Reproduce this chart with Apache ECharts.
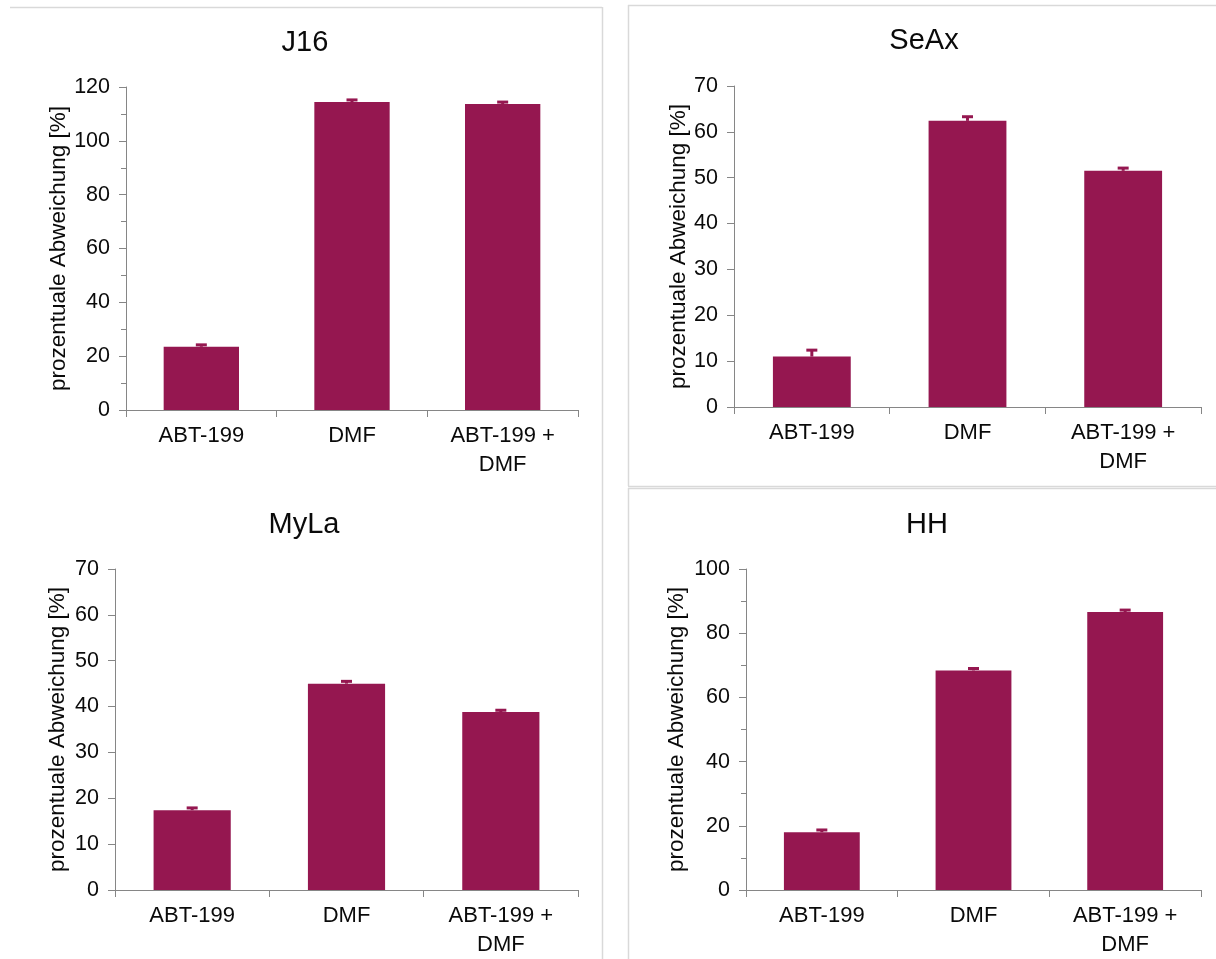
<!DOCTYPE html>
<html>
<head>
<meta charset="utf-8">
<script src="https://cdn.jsdelivr.net/npm/echarts@6/dist/echarts.min.js"></script>
<style>
  html, body { margin: 0; padding: 0; background: #ffffff; }
  #chart { width: 1216px; height: 959px; }
</style>
</head>
<body>
<div id="chart"></div>
<script>
// Treatment groups shown on every panel
const categories = ['ABT-199', 'DMF', 'ABT-199 +\nDMF'];

// Mean deviation [%] and error per cell line
const j16Values = [23.5, 114.4, 113.7];
const j16Errors = [0.7, 0.8, 0.7];

const seaxValues = [11.0, 62.4, 51.5];
const seaxErrors = [1.4, 0.9, 0.6];

const mylaValues = [17.4, 45.0, 38.8];
const mylaErrors = [0.5, 0.5, 0.4];

const hhValues = [18.0, 68.4, 86.6];
const hhErrors = [0.7, 0.6, 0.6];

const yAxisTitle = 'prozentuale Abweichung [%]';
const barColor = '#951750';
const axisColor = '#868686';
const textColor = '#0a0a0a';
const font = 'Liberation Sans, Arial, sans-serif';

// Panel layout: each cell line gets its own grid
const panels = [
  { title: 'J16',  values: j16Values,  errors: j16Errors,  max: 120, interval: 20, minor: true,
    grid: { left: 126, right: 638, top: 87, bottom: 549 }, titleX: 305, titleY: 43, nameGap: 56 },
  { title: 'SeAx', values: seaxValues, errors: seaxErrors, max: 70,  interval: 10, minor: false,
    grid: { left: 734, right: 15, top: 86, bottom: 552 },  titleX: 924, titleY: 41, nameGap: 40 },
  { title: 'MyLa', values: mylaValues, errors: mylaErrors, max: 70,  interval: 10, minor: false,
    grid: { left: 115, right: 638, top: 569, bottom: 67 }, titleX: 304, titleY: 525, nameGap: 46 },
  { title: 'HH',   values: hhValues,   errors: hhErrors,   max: 100, interval: 20, minor: true,
    grid: { left: 746, right: 15, top: 569, bottom: 67 },  titleX: 927, titleY: 525, nameGap: 58 }
];

const grids = [], xAxes = [], yAxes = [], series = [], graphics = [];

panels.forEach((p, i) => {
  grids.push(Object.assign({ containLabel: false }, p.grid));

  xAxes.push({
    type: 'category', gridIndex: i, data: categories,
    axisLine: { lineStyle: { color: axisColor, width: 1 } },
    axisTick: { show: true, length: 7, lineStyle: { color: axisColor } },
    axisLabel: { interval: 0, color: textColor, fontFamily: font, fontSize: 22, lineHeight: 29, margin: 11 },
    splitLine: { show: false }
  });

  yAxes.push({
    type: 'value', gridIndex: i, min: 0, max: p.max, interval: p.interval,
    name: yAxisTitle, nameLocation: 'middle', nameRotate: 90, nameGap: p.nameGap,
    nameTextStyle: { color: textColor, fontFamily: font, fontSize: 22.5 },
    axisLine: { show: true, lineStyle: { color: axisColor, width: 1 } },
    axisTick: { show: true, length: 7, lineStyle: { color: axisColor } },
    minorTick: { show: p.minor, splitNumber: 2, length: 5, lineStyle: { color: axisColor } },
    axisLabel: { color: textColor, fontFamily: font, fontSize: 21.5, margin: 16 },
    splitLine: { show: false }, minorSplitLine: { show: false }
  });

  series.push({
    type: 'bar', xAxisIndex: i, yAxisIndex: i, data: p.values,
    barCategoryGap: '50%', itemStyle: { color: barColor }, silent: true
  });

  // Error bars: stem from the bar top to mean + error, with a short cap
  series.push({
    type: 'custom', xAxisIndex: i, yAxisIndex: i, silent: true, z: 3,
    data: p.values.map((v, k) => [k, v, v + p.errors[k]]),
    encode: { x: 0, y: [1, 2] },
    renderItem: function (params, api) {
      const c = api.value(0);
      const low = api.coord([c, api.value(1)]);
      const high = api.coord([c, api.value(2)]);
      const half = 5.5;
      return {
        type: 'group',
        children: [
          { type: 'line', shape: { x1: low[0], y1: low[1], x2: high[0], y2: high[1] },
            style: { stroke: barColor, lineWidth: 3 } },
          { type: 'line', shape: { x1: high[0] - half, y1: high[1], x2: high[0] + half, y2: high[1] },
            style: { stroke: barColor, lineWidth: 3 } }
        ]
      };
    }
  });

  graphics.push({
    type: 'text', x: p.titleX, y: p.titleY, silent: true,
    style: { text: p.title, fill: textColor, font: '29px ' + font, textAlign: 'center', textVerticalAlign: 'middle' }
  });
});

// Light frames around the panels
const frameColor = '#d9d9d9';
const frameLines = [
  [10, 7.5, 602, 7.5], [602.5, 7, 602.5, 959],
  [628.5, 5, 628.5, 486], [628, 5.5, 1216, 5.5], [628, 486.5, 1216, 486.5],
  [628, 488.5, 1216, 488.5], [628.5, 488, 628.5, 959]
];
frameLines.forEach(l => {
  graphics.push({ type: 'line', silent: true, z: -1,
    shape: { x1: l[0], y1: l[1], x2: l[2], y2: l[3] },
    style: { stroke: frameColor, lineWidth: 1.5 } });
});

const chart = echarts.init(document.getElementById('chart'), null, { renderer: 'canvas' });
chart.setOption({
  animation: false,
  backgroundColor: '#ffffff',
  grid: grids, xAxis: xAxes, yAxis: yAxes, series: series,
  graphic: { elements: graphics }
});
</script>
</body>
</html>
